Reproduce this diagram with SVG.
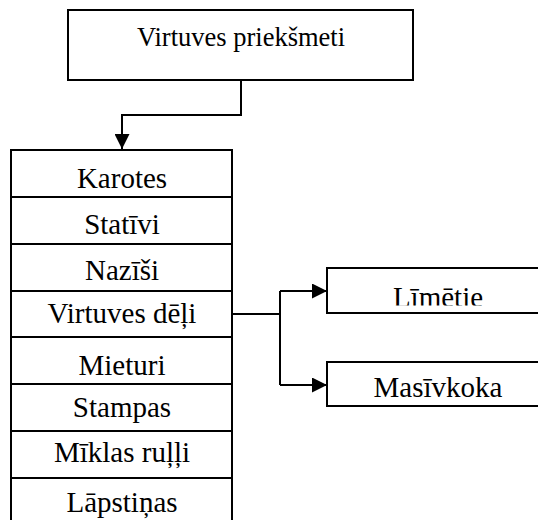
<svg xmlns="http://www.w3.org/2000/svg" width="538" height="520" viewBox="0 0 538 520">
<style>
.box{fill:#fff;stroke:#000;stroke-width:2}
.t{font-family:'Liberation Serif','Times New Roman',serif;font-size:29px;fill:#000;text-anchor:middle}
.c{fill:none;stroke:#000;stroke-width:2}
</style>
<defs>
<marker id="ah2" viewBox="0 0 10 10" refX="10" refY="5" markerWidth="15" markerHeight="15" markerUnits="userSpaceOnUse" orient="auto">
<path d="M0,0 L10,5 L0,10 Z" fill="#000"/>
</marker>
<clipPath id="clipL"><rect x="327" y="268" width="220" height="37.5"/></clipPath>
</defs>
<g id="connectors">
<polyline class="c" points="241,80 241,115 122,115 122,149" marker-end="url(#ah2)"/>
<polyline class="c" points="232,314 280,314"/>
<polyline class="c" points="280,291 280,385"/>
<polyline class="c" points="280,291 327,291" marker-end="url(#ah2)"/>
<polyline class="c" points="280,385 327,385" marker-end="url(#ah2)"/>
</g>
<g id="top">
<rect class="box" x="68" y="10" width="345" height="70"/>
<text class="t" x="241" y="46" style="font-size:26.5px">Virtuves priekšmeti</text>
</g>
<g id="karotes"><rect class="box" x="11" y="150" width="221" height="47"/><text class="t" x="122" y="188">Karotes</text></g>
<g id="stativi"><rect class="box" x="11" y="197" width="221" height="47"/><text class="t" x="122" y="234">Statīvi</text></g>
<g id="nazisi"><rect class="box" x="11" y="244" width="221" height="47"/><text class="t" x="122" y="280">Nazīši</text></g>
<g id="deli"><rect class="box" x="11" y="291" width="221" height="46"/><text class="t" x="122" y="323">Virtuves dēļi</text></g>
<g id="mieturi"><rect class="box" x="11" y="337" width="221" height="47"/><text class="t" x="122" y="375">Mieturi</text></g>
<g id="stampas"><rect class="box" x="11" y="384" width="221" height="47"/><text class="t" x="122" y="417">Stampas</text></g>
<g id="ruli"><rect class="box" x="11" y="431" width="221" height="47"/><text class="t" x="122" y="462">Mīklas ruļļi</text></g>
<g id="lapstinas"><rect class="box" x="11" y="478" width="221" height="50"/><text class="t" x="122" y="512">Lāpstiņas</text></g>
<g id="limetie"><rect class="box" x="327" y="268" width="230" height="45"/><text class="t" x="438" y="306.5" clip-path="url(#clipL)">Līmētie</text></g>
<g id="masivkoka"><rect class="box" x="327" y="362" width="230" height="44"/><text class="t" x="438" y="397">Masīvkoka</text></g>
</svg>
